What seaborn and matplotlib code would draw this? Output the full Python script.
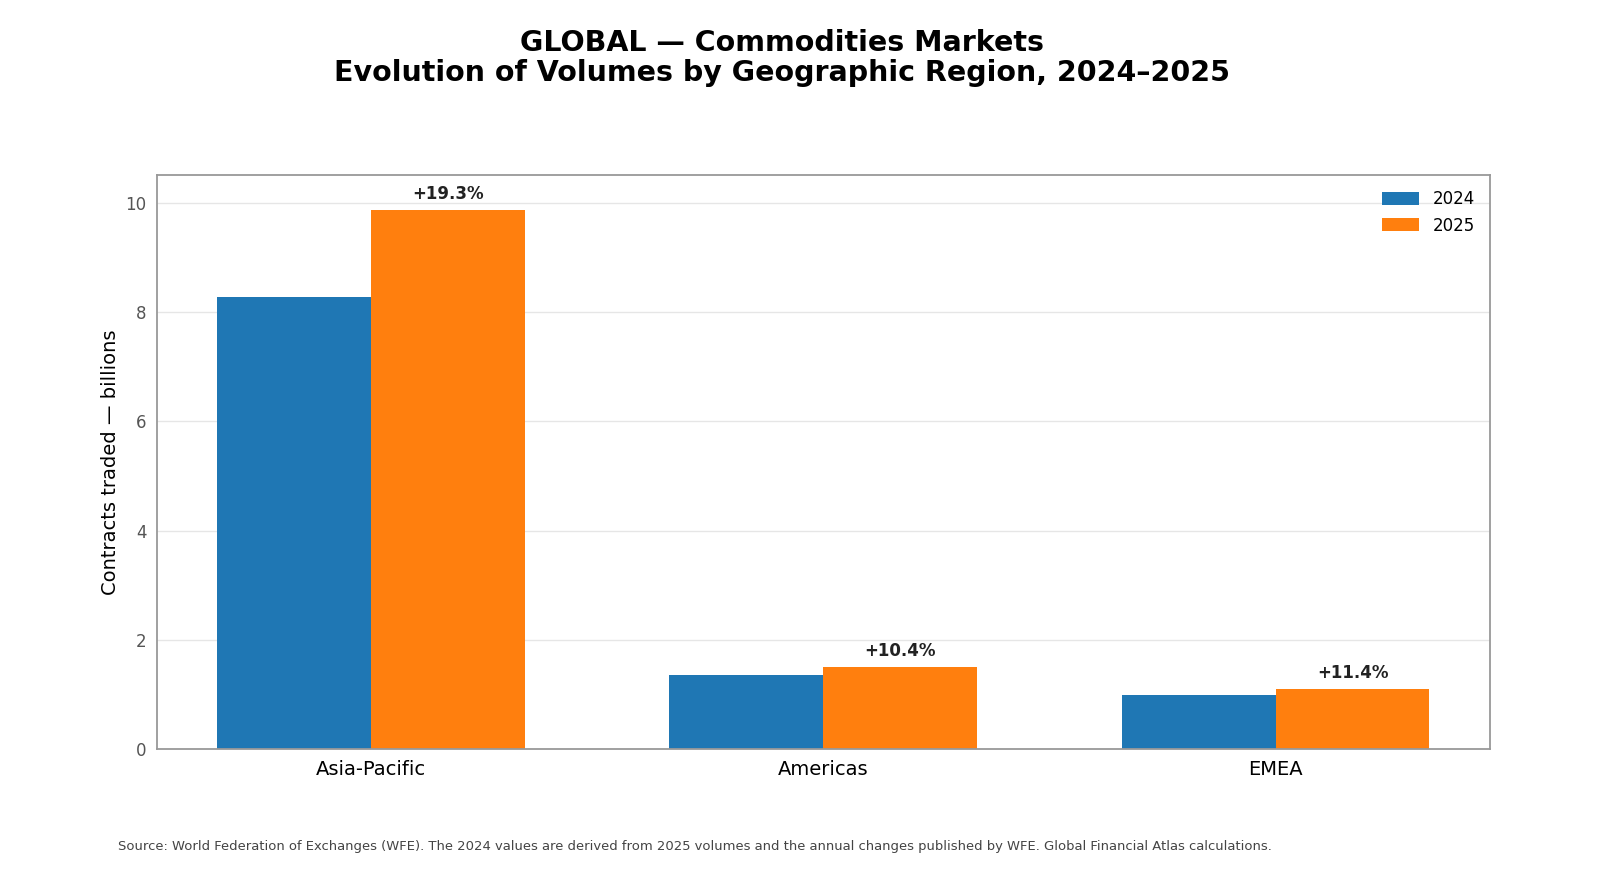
import pandas as pd
import seaborn as sns
import matplotlib.pyplot as plt

# Data
regions = ["Asia-Pacific", "Americas", "EMEA"]
years = ["2024", "2025"]
vol_2024 = [8.27, 1.36, 1.00]
vol_2025 = [9.87, 1.51, 1.11]
growth = ["+19.3%", "+10.4%", "+11.4%"]

df = pd.DataFrame({
    "region": regions * 2,
    "year": [years[0]] * 3 + [years[1]] * 3,
    "volume": vol_2024 + vol_2025,
})

sns.set_style("white")
plt.rcParams["font.family"] = ["DejaVu Sans"]
plt.rcParams["text.color"] = "black"
plt.rcParams["axes.labelcolor"] = "black"

fig = plt.figure(figsize=(16, 8.9), dpi=100)
ax = fig.add_axes([0.098, 0.158, 0.833, 0.645])

sns.barplot(
    data=df,
    x="region",
    y="volume",
    hue="year",
    palette=["#1f77b4", "#ff7f0e"],
    width=0.68,
    saturation=1,
    linewidth=0,
    edgecolor="none",
    ax=ax,
)

# growth labels above 2025 bars
for i, txt in enumerate(growth):
    ax.annotate(
        txt,
        xy=(i + 0.17, vol_2025[i]),
        xytext=(0, 5),
        textcoords="offset points",
        ha="center",
        va="bottom",
        fontsize=12,
        fontweight="bold",
        color="#222222",
    )

ax.set_xlim(-0.473, 2.473)
ax.set_ylim(0, 10.5)
ax.set_yticks([0, 2, 4, 6, 8, 10])
ax.yaxis.grid(True, color="#e6e6e6", linewidth=1)
ax.set_axisbelow(True)

for s in ax.spines.values():
    s.set_color("#999999")
    s.set_linewidth(1.3)

ax.tick_params(axis="y", labelsize=12, labelcolor="#555555", color="#999999", length=4)
ax.tick_params(axis="x", labelsize=14, labelcolor="black", color="#333333", length=4)
ax.set_xlabel("")
ax.set_ylabel("Contracts traded — billions", fontsize=14, color="black")

leg = ax.legend(loc="upper right", frameon=False, fontsize=12, title=None,
                handlelength=2.2, handleheight=0.8)
for t in leg.get_texts():
    t.set_color("black")

fig.text(0.489, 0.935, "GLOBAL — Commodities Markets\nEvolution of Volumes by Geographic Region, 2024–2025",
         ha="center", va="center", fontsize=20.5, fontweight="bold", linespacing=1.1,
         color="black")

fig.text(0.074, 0.049,
         "Source: World Federation of Exchanges (WFE). The 2024 values are derived from 2025 volumes "
         "and the annual changes published by WFE. Global Financial Atlas calculations.",
         ha="left", va="center", fontsize=9.45, color="#444444")

fig.savefig("out.png", dpi=100)
